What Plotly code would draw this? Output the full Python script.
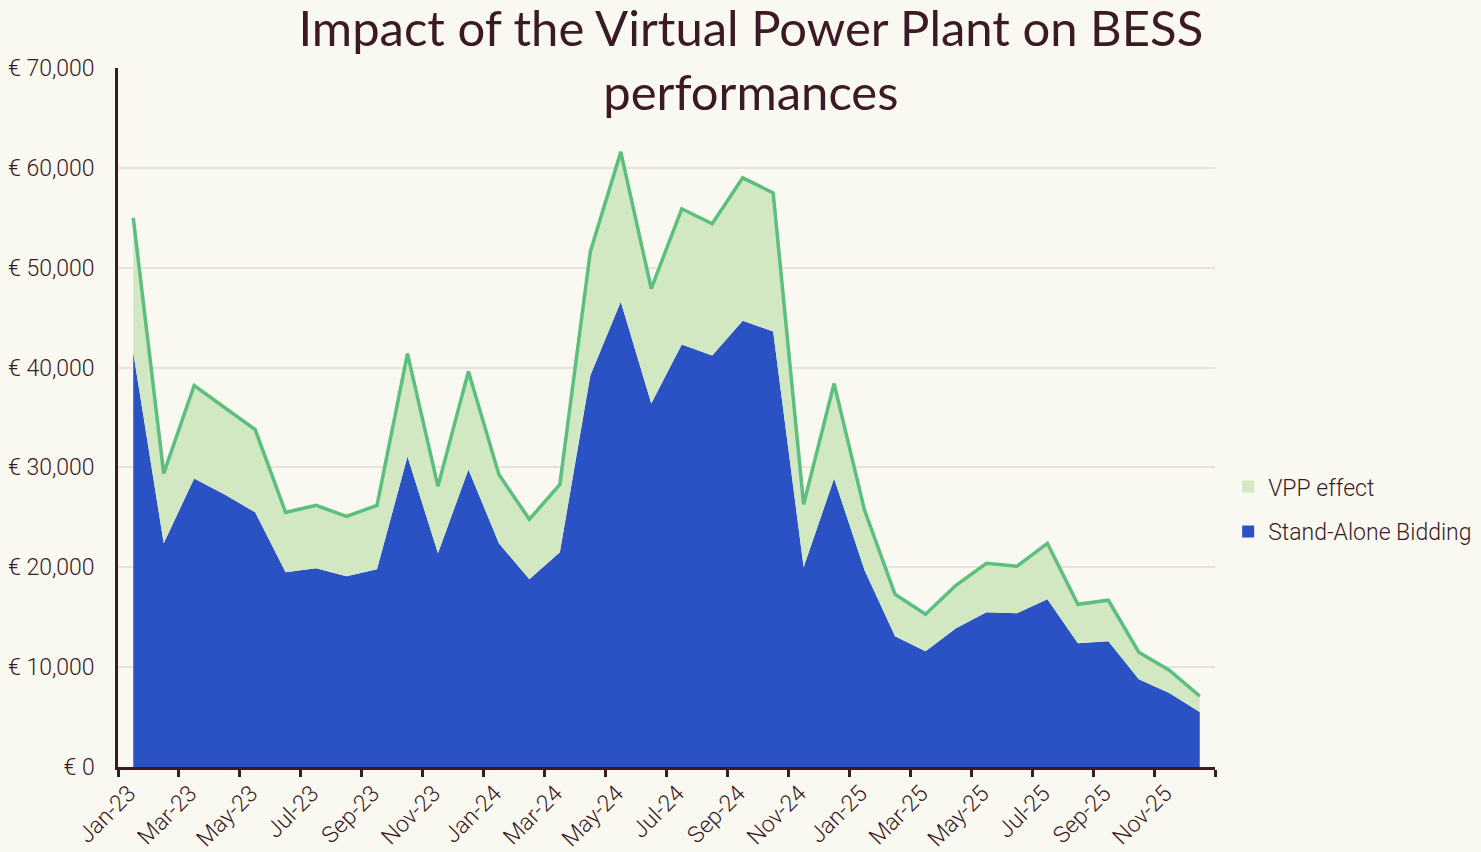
import plotly.graph_objects as go

months = ["Jan-23","Feb-23","Mar-23","Apr-23","May-23","Jun-23","Jul-23","Aug-23","Sep-23","Oct-23","Nov-23","Dec-23",
          "Jan-24","Feb-24","Mar-24","Apr-24","May-24","Jun-24","Jul-24","Aug-24","Sep-24","Oct-24","Nov-24","Dec-24",
          "Jan-25","Feb-25","Mar-25","Apr-25","May-25","Jun-25","Jul-25","Aug-25","Sep-25","Oct-25","Nov-25","Dec-25"]

stand_alone = [41500, 22400, 28900, 27300, 25500, 19500, 19900, 19100, 19800, 31100, 21400, 29800,
               22400, 18800, 21500, 39200, 46600, 36400, 42300, 41200, 44700, 43600, 20000, 28900,
               19700, 13100, 11600, 13900, 15500, 15400, 16800, 12400, 12600, 8800, 7400, 5500]

total = [55000, 29400, 38200, 36000, 33800, 25500, 26200, 25100, 26200, 41400, 28100, 39600,
         29300, 24800, 28300, 51600, 61600, 47900, 55900, 54400, 59000, 57500, 26300, 38400,
         25700, 17300, 15300, 18200, 20400, 20100, 22400, 16300, 16700, 11500, 9700, 7100]

vpp_effect = [t - s for t, s in zip(total, stand_alone)]

n = len(months)
x = list(range(n))
tick_marks = [i - 0.5 for i in range(0, n + 1, 2)]          # tick marks at 2-month boundaries
label_pos = [i - 0.5 + 0.36 for i in range(0, n, 2)]        # label anchors
tick_txt = [months[i] for i in range(0, n, 2)]

BLUE = "#2B52C4"
LGREEN = "#D2E8C2"
GREEN = "#5CBF7F"
TEXT = "#3B1A24"
BG = "#FAF9F1"
FONT = "Roboto"

fig = go.Figure()
fig.add_trace(go.Scatter(x=x, y=stand_alone, stackgroup="s", mode="lines",
                         line=dict(width=0, color=BLUE), fillcolor=BLUE,
                         name="Stand-Alone Bidding", showlegend=False, hoverinfo="skip"))
fig.add_trace(go.Scatter(x=x, y=vpp_effect, stackgroup="s", mode="lines",
                         line=dict(width=0, color=LGREEN), fillcolor=LGREEN,
                         name="VPP effect", showlegend=False, hoverinfo="skip"))
fig.add_trace(go.Scatter(x=x, y=total, mode="lines", line=dict(color=GREEN, width=3.5),
                         showlegend=False, hoverinfo="skip"))
# legend entries
fig.add_trace(go.Scatter(x=[None], y=[None], mode="markers", name="VPP effect",
                         legendgroup="a", marker=dict(symbol="square", size=12, color=LGREEN)))
fig.add_trace(go.Scatter(x=[None], y=[None], mode="markers", name="Stand-Alone Bidding",
                         legendgroup="b", marker=dict(symbol="square", size=12, color=BLUE)))

fig.update_layout(
    width=1481, height=852,
    paper_bgcolor=BG, plot_bgcolor=BG,
    margin=dict(l=118, r=266, t=68, b=85, autoexpand=False),
    font=dict(family=FONT, color=TEXT, size=23, weight=300),
    title=dict(text="Impact of the Virtual Power Plant on BESS<br>performances",
               x=0.507, xanchor="center", y=0.946, yanchor="middle",
               font=dict(family="Lato", size=49, color=TEXT, weight=400)),
    legend=dict(x=1.012, xanchor="left", y=0.369, yanchor="middle",
                traceorder="grouped", font=dict(size=23, color=TEXT, weight=300),
                bgcolor="rgba(0,0,0,0)", itemsizing="trace", tracegroupgap=12),
    showlegend=True,
)
fig.update_xaxes(range=[-0.5, n - 0.5], tickmode="array", tickvals=label_pos, ticktext=tick_txt,
                 tickangle=-45, ticks="outside", ticklen=1, tickwidth=2, tickcolor="rgba(0,0,0,0)",
                 minor=dict(tickmode="array", tickvals=tick_marks, ticks="outside", ticklen=7,
                            tickwidth=2.5, tickcolor=TEXT, showgrid=False),
                 showline=True, linecolor=TEXT, linewidth=2.5, showgrid=False, zeroline=False,
                 automargin=False, tickfont=dict(size=23, color=TEXT, weight=300))
fig.update_yaxes(range=[0, 70000], dtick=10000, tickprefix="€ ", tickformat=",d",
                 showline=True, linecolor=TEXT, linewidth=2.5, showgrid=True,
                 gridcolor="#E8E2DC", gridwidth=2, zeroline=False, ticks="",
                 automargin=False, ticklabelstandoff=16,
                 tickfont=dict(size=23, color=TEXT, weight=300))

fig.write_html("out.html", config={"displayModeBar": False},
               post_script="document.body.style.margin='0';document.body.style.background='%s';" % BG)
